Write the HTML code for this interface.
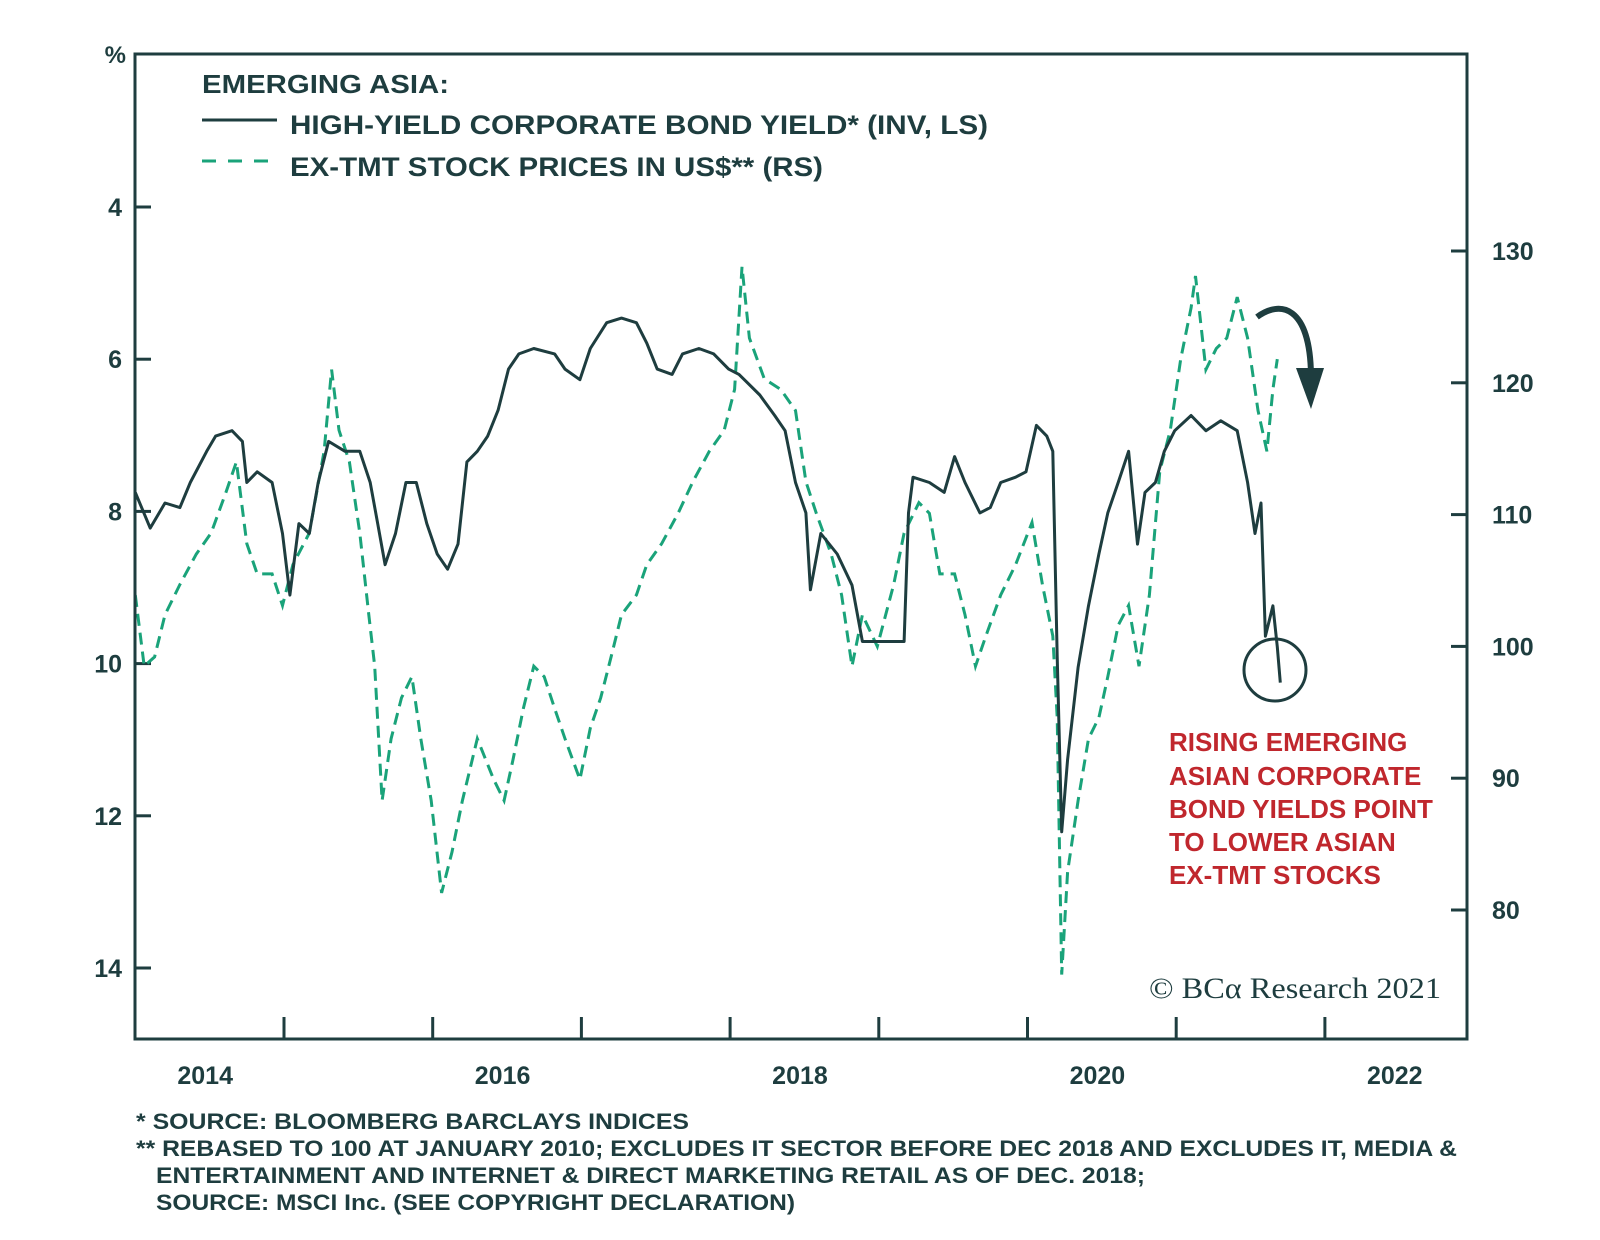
<!DOCTYPE html>
<html><head><meta charset="utf-8"><style>
body{margin:0;background:#fff;width:1600px;height:1240px;overflow:hidden}
svg{display:block}
text{font-family:"Liberation Sans",sans-serif;font-weight:bold;fill:#1e3d3f}
</style></head><body>
<svg id="chart" width="1600" height="1240">
<g id="axes"></g>
<g id="series"></g>
<rect x="135" y="54" width="1332" height="985" fill="none" stroke="#1e3d3f" stroke-width="3"/>
<text x="126" y="63" font-size="24" text-anchor="end">%</text>
<text x="202" y="93" font-size="26" textLength="247" lengthAdjust="spacingAndGlyphs">EMERGING ASIA:</text>
<line x1="202" y1="120" x2="277" y2="120" stroke="#1e3d3f" stroke-width="3"/>
<text x="290" y="134" font-size="27" textLength="698" lengthAdjust="spacingAndGlyphs">HIGH-YIELD CORPORATE BOND YIELD* (INV, LS)</text>
<line x1="202" y1="161" x2="277" y2="161" stroke="#1aa37a" stroke-width="3" stroke-dasharray="14,12"/>
<text x="290" y="176" font-size="27" textLength="533" lengthAdjust="spacingAndGlyphs">EX-TMT STOCK PRICES IN US$** (RS)</text>
<g font-size="26">
<text x="1169" y="751" style="fill:#c0272d">RISING EMERGING</text>
<text x="1169" y="785" style="fill:#c0272d">ASIAN CORPORATE</text>
<text x="1169" y="818" style="fill:#c0272d">BOND YIELDS POINT</text>
<text x="1169" y="851" style="fill:#c0272d">TO LOWER ASIAN</text>
<text x="1169" y="884" style="fill:#c0272d">EX-TMT STOCKS</text>
</g>
<circle cx="1275" cy="670" r="31" fill="none" stroke="#1e3d3f" stroke-width="3"/>
<path d="M1257,317 C1280,300 1310,305 1311,375" fill="none" stroke="#1e3d3f" stroke-width="6"/>
<polygon points="1296,368 1324,368 1311,409" fill="#1e3d3f"/>
<text x="1149" y="998" font-size="30" textLength="292" lengthAdjust="spacingAndGlyphs" style="font-family:'Liberation Serif',serif;font-weight:normal">© BCα Research 2021</text>
<g font-size="22">
<text x="136" y="1129" textLength="553" lengthAdjust="spacingAndGlyphs">*  SOURCE: BLOOMBERG BARCLAYS INDICES</text>
<text x="136" y="1156" textLength="1321" lengthAdjust="spacingAndGlyphs">** REBASED TO 100 AT JANUARY 2010; EXCLUDES IT SECTOR BEFORE DEC 2018 AND EXCLUDES IT, MEDIA &amp;</text>
<text x="156" y="1183" textLength="989" lengthAdjust="spacingAndGlyphs">ENTERTAINMENT AND INTERNET &amp; DIRECT MARKETING RETAIL AS OF DEC. 2018;</text>
<text x="156" y="1210" textLength="639" lengthAdjust="spacingAndGlyphs">SOURCE: MSCI Inc. (SEE COPYRIGHT DECLARATION)</text>
</g>
</svg>
<script>
const leftTicks=[4,6,8,10,12,14];
const rightTicks=[80,90,100,110,120,130];
const yearLabels=[2014,2016,2018,2020,2022];
const yearTicks=[2015,2016,2017,2018,2019,2020,2021,2022];
const bondDates=[2014.00,2014.10,2014.20,2014.30,2014.37,2014.48,2014.54,2014.65,2014.72,2014.75,2014.82,2014.92,2014.99,2015.04,2015.10,2015.17,2015.23,2015.30,2015.41,2015.51,2015.58,2015.63,2015.68,2015.75,2015.82,2015.89,2015.96,2016.03,2016.10,2016.17,2016.23,2016.30,2016.37,2016.44,2016.51,2016.58,2016.68,2016.82,2016.89,2016.99,2017.06,2017.17,2017.27,2017.37,2017.44,2017.51,2017.61,2017.68,2017.79,2017.89,2017.99,2018.06,2018.20,2018.30,2018.37,2018.44,2018.51,2018.54,2018.61,2018.72,2018.82,2018.89,2018.99,2019.17,2019.20,2019.23,2019.34,2019.44,2019.51,2019.58,2019.68,2019.75,2019.82,2019.92,2019.99,2020.06,2020.13,2020.17,2020.20,2020.23,2020.27,2020.34,2020.41,2020.48,2020.54,2020.61,2020.68,2020.74,2020.79,2020.86,2020.92,2020.99,2021.10,2021.20,2021.30,2021.41,2021.48,2021.53,2021.57,2021.60,2021.65,2021.68,2021.70];
const bondYield=[7.75,8.22,7.89,7.95,7.62,7.21,7.01,6.94,7.08,7.62,7.48,7.62,8.29,9.10,8.16,8.29,7.62,7.08,7.21,7.21,7.62,8.16,8.70,8.29,7.62,7.62,8.16,8.56,8.76,8.43,7.35,7.21,7.01,6.67,6.13,5.93,5.86,5.93,6.13,6.27,5.86,5.52,5.46,5.52,5.79,6.13,6.20,5.93,5.86,5.93,6.13,6.20,6.47,6.74,6.94,7.62,8.02,9.03,8.29,8.56,8.97,9.71,9.71,9.71,8.02,7.55,7.62,7.75,7.28,7.62,8.02,7.95,7.62,7.55,7.48,6.87,7.01,7.21,9.91,12.21,11.26,10.05,9.24,8.56,8.02,7.62,7.21,8.43,7.75,7.62,7.21,6.94,6.74,6.94,6.81,6.94,7.62,8.29,7.89,9.64,9.24,9.78,10.25];
const stockDates=[2014.00,2014.06,2014.13,2014.20,2014.30,2014.41,2014.51,2014.61,2014.68,2014.75,2014.82,2014.92,2014.99,2015.06,2015.17,2015.27,2015.32,2015.37,2015.44,2015.51,2015.57,2015.61,2015.66,2015.72,2015.79,2015.86,2015.92,2015.99,2016.06,2016.13,2016.20,2016.30,2016.41,2016.48,2016.54,2016.61,2016.68,2016.75,2016.82,2016.89,2016.99,2017.06,2017.13,2017.20,2017.27,2017.37,2017.44,2017.54,2017.65,2017.75,2017.86,2017.96,2018.03,2018.08,2018.13,2018.23,2018.34,2018.44,2018.51,2018.58,2018.68,2018.75,2018.82,2018.89,2018.99,2019.10,2019.17,2019.27,2019.34,2019.41,2019.51,2019.58,2019.65,2019.72,2019.82,2019.92,2020.03,2020.10,2020.17,2020.20,2020.23,2020.27,2020.34,2020.41,2020.48,2020.54,2020.61,2020.68,2020.75,2020.82,2020.89,2020.96,2021.03,2021.10,2021.13,2021.20,2021.27,2021.34,2021.41,2021.48,2021.55,2021.61,2021.65,2021.68];
const stockPrices=[103.9,98.5,99.2,102.4,104.7,107.0,108.6,111.7,114.0,107.8,105.5,105.5,103.1,106.2,108.6,114.8,121.0,116.4,114.0,108.6,102.4,98.5,88.3,93.0,96.1,97.7,93.0,88.3,81.3,84.4,88.3,93.0,89.9,88.3,91.4,95.3,98.5,97.7,95.3,93.0,89.9,93.8,96.1,99.2,102.4,103.9,106.2,107.8,110.1,112.5,114.8,116.4,119.5,128.8,123.4,120.3,119.5,117.9,112.5,110.1,107.0,103.9,98.5,102.4,100.0,104.7,108.6,110.9,110.1,105.5,105.5,102.4,98.5,100.8,103.9,106.2,109.4,104.7,100.8,94.6,75.1,82.9,88.3,93.0,94.6,97.7,101.6,103.1,98.5,103.9,113.3,116.4,121.8,125.7,128.1,121.0,122.6,123.4,126.5,123.4,117.9,114.8,119.5,121.8];

const NS='http://www.w3.org/2000/svg';
const X0=135,X1=1467,Y0=54,Y1=1039;
const xScale=t=>284+(t-2015)*148.7;
const yLeft=v=>207+(v-4)*76.1;
const yRight=v=>251+(130-v)*13.18;
function mk(tag,attrs,parent){const e=document.createElementNS(NS,tag);for(const k in attrs)e.setAttribute(k,attrs[k]);parent.appendChild(e);return e;}
const axes=document.getElementById('axes');
leftTicks.forEach(v=>{const y=yLeft(v);
 const l=mk('line',{x1:X0,x2:X0+16,y1:y,y2:y,stroke:'#1e3d3f','stroke-width':3},axes);
 
 
 const t=mk('text',{x:122,y:y+9,'font-size':25,'text-anchor':'end'},axes);t.textContent=v;
 
 });
rightTicks.forEach(v=>{const y=yRight(v);
 const l=mk('line',{x1:X1-16,x2:X1,y1:y,y2:y,stroke:'#1e3d3f','stroke-width':3},axes);
 
 
 const t=mk('text',{x:1492,y:y+9,'font-size':25},axes);t.textContent=v;
 
 });
yearTicks.forEach(yr=>{const x=xScale(yr);
 const l=mk('line',{x1:x,x2:x,y1:Y1-22,y2:Y1,stroke:'#1e3d3f','stroke-width':3},axes);
 
 });
yearLabels.forEach(yr=>{const x=xScale(yr+0.47);
 const t=mk('text',{x:x,y:1084,'font-size':25,'text-anchor':'middle'},axes);t.textContent=yr;
 
 });
const ser=document.getElementById('series');
const gp=stockDates.map((d,i)=>xScale(d).toFixed(1)+','+yRight(stockPrices[i]).toFixed(1)).join(' ');
const g=mk('polyline',{points:gp,fill:'none',stroke:'#1aa37a','stroke-width':3,'stroke-dasharray':'12,7'},ser);


const bp=bondDates.map((d,i)=>xScale(d).toFixed(1)+','+yLeft(bondYield[i]).toFixed(1)).join(' ');
const b=mk('polyline',{points:bp,fill:'none',stroke:'#1e3d3f','stroke-width':3,'stroke-linejoin':'round'},ser);


</script>
</body></html>
